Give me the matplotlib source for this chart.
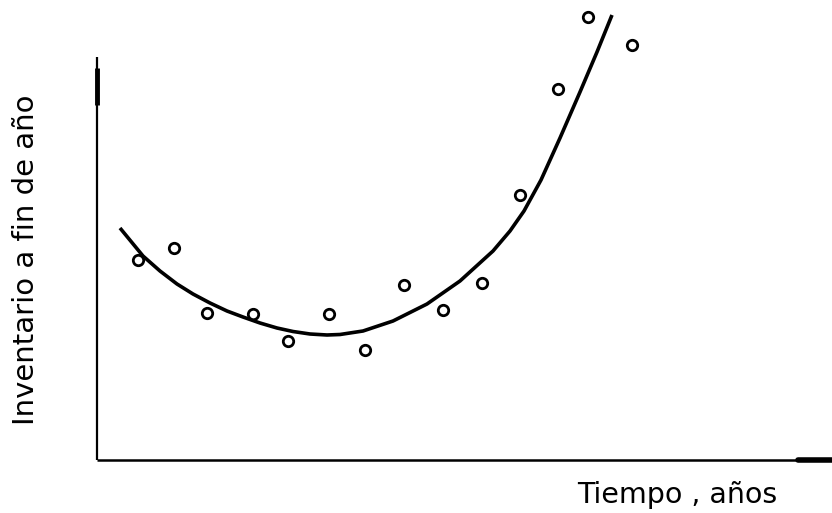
import numpy as np
import matplotlib.pyplot as plt

# datos (unidades arbitrarias)
tiempo = [4.1, 7.7, 11.0, 15.6, 19.1, 23.2, 26.8, 30.7, 34.6, 38.5, 42.3, 46.1, 49.1, 53.5]
inventario = [20.0, 21.2, 14.7, 14.6, 11.9, 14.6, 11.0, 17.5, 15.0, 17.7, 26.5, 37.1, 44.3, 41.5]

# curva ajustada (trazada a mano)
curva_t = [2.3, 4.6, 6.3, 8.0, 9.6, 11.3, 13.0, 14.6, 16.3, 18.0, 19.6, 21.3, 23.0,
           24.3, 26.6, 29.6, 33.0, 36.3, 39.6, 41.3, 42.7, 44.4, 46.3, 48.3, 50.0, 51.5]
curva_inv = [23.2, 20.4, 18.9, 17.6, 16.6, 15.7, 14.9, 14.3, 13.7, 13.2, 12.85, 12.6, 12.5,
             12.55, 12.9, 13.9, 15.6, 17.9, 20.9, 22.9, 24.9, 28.0, 32.2, 36.8, 40.8, 44.5]

xlabel = "Tiempo , años"
ylabel = "Inventario a fin de año"

plt.rcParams["font.family"] = ["DejaVu Sans"]
fig = plt.figure(figsize=(8.32, 5.13), dpi=100, facecolor="white")
ax = fig.add_axes([0, 0, 1, 1])
ax.set_xlim(-9.7, 73.5)
ax.set_ylim(-5.3, 46.0)
ax.axis("off")

# ejes dibujados a mano
ax.plot([0, 0], [0, 40.3], color="black", lw=1.6, solid_capstyle="butt")
ax.plot([0, 0], [35.5, 39.2], color="black", lw=3.5, solid_capstyle="butt")
ax.plot([0, 73.5], [0, 0], color="black", lw=1.8, solid_capstyle="butt")
ax.plot([70.1, 73.5], [0, 0], color="black", lw=4.0, solid_capstyle="round")

# curva y puntos
ax.plot(curva_t, curva_inv, color="black", lw=2.6, solid_joinstyle="round", solid_capstyle="butt")
ax.plot(tiempo, inventario, "o", ms=7.5, mfc="white", mec="black", mew=2.0)

ax.text(58.0, -3.5, xlabel, fontsize=20.5, ha="center", va="center")
ax.text(-7.1, 20.0, ylabel, fontsize=21, ha="center", va="center", rotation=90)

plt.savefig("out.png", dpi=100, facecolor="white")
